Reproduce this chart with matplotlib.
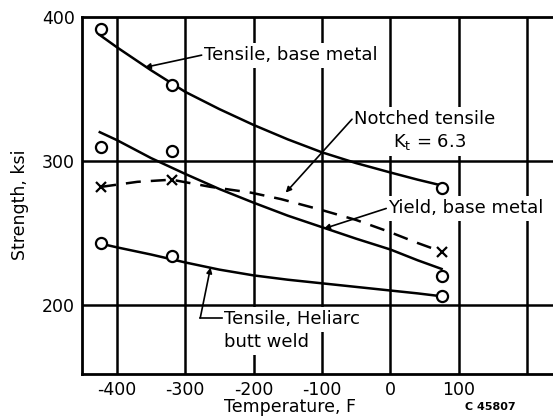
import numpy as np
import matplotlib.pyplot as plt

# test temperatures (F) and measured strengths (ksi)
temp_pts = [-423, -320, 75]
tensile_base = [392, 353, 281]
yield_base = [310, 307, 220]
notched = [282, 287, 237]
heliarc = [243, 234, 206]

# faired curves
tens_curve_t = [-425, -400, -350, -300, -250, -200, -150, -100, -50, 0, 40, 75]
tens_curve_s = [387.5, 379, 363, 348, 336, 325, 315, 306, 298.5, 292, 287, 283]
yld_curve_t = [-425, -400, -350, -300, -250, -200, -150, -100, -50, 0, 40, 75]
yld_curve_s = [320, 314.5, 302, 291, 280.5, 271, 262, 254, 246, 238.5, 231, 225]
notch_curve_t = [-423, -370, -320, -263, -204, -160, -101, -50, -3, 40, 75]
notch_curve_s = [282, 285.5, 287, 282, 278, 273.5, 266, 259, 251, 243, 237]
hel_curve_t = [-423, -400, -350, -300, -250, -200, -150, -100, -50, 0, 40, 75]
hel_curve_s = [242.5, 240, 235, 229.5, 224.5, 220.5, 217.5, 215, 212.5, 210, 208, 206]

xgrid = [-400, -300, -200, -100, 0, 100, 200]
ygrid = [200, 300]
xticks = [-400, -300, -200, -100, 0, 100]
yticks = [200, 300, 400]

plt.rcParams['font.family'] = 'DejaVu Sans'
fig = plt.figure(figsize=(5.53, 4.20), dpi=100)
ax = fig.add_axes([82/553, 1-374/420, 1-82/553, (374-17)/420])
ax.set_xlim(-451, 238)
ax.set_ylim(152, 400)

for gx in xgrid:
    ax.axvline(gx, color='black', lw=1.8, zorder=1)
for gy in ygrid:
    ax.axhline(gy, color='black', lw=1.8, zorder=1)

for sp in ['left', 'bottom', 'top']:
    ax.spines[sp].set_linewidth(2)
ax.spines['right'].set_visible(False)

ax.set_xticks(xticks)
ax.set_xticklabels([str(t) for t in xticks])
ax.set_yticks(yticks)
ax.tick_params(length=0, labelsize=12.5, pad=5)

line_kw = dict(color='black', lw=1.8, zorder=3)
ax.plot(tens_curve_t, tens_curve_s, **line_kw)
ax.plot(yld_curve_t, yld_curve_s, **line_kw)
ax.plot(hel_curve_t, hel_curve_s, **line_kw)
ax.plot(notch_curve_t, notch_curve_s, ls=(0, (6, 4)), **line_kw)

circ = dict(ls='none', marker='o', ms=8, mfc='white', mec='black', mew=1.6, zorder=4)
ax.plot(temp_pts, tensile_base, **circ)
ax.plot(temp_pts, yield_base, **circ)
ax.plot(temp_pts, heliarc, **circ)
ax.plot(temp_pts, notched, ls='none', marker='x', ms=7.5, mec='black', mew=1.6, zorder=4)

fs = 13
box = dict(facecolor='white', edgecolor='none', pad=2.5)
arrow = dict(arrowstyle='-|>', color='black', lw=1.2, mutation_scale=8, shrinkA=0, shrinkB=0)

# leaders
ax.annotate('', xy=(-359, 365), xytext=(-276, 373.5), arrowprops=arrow, zorder=7)
ax.annotate('', xy=(-153, 278), xytext=(-56, 329), arrowprops=arrow, zorder=7)
ax.annotate('', xy=(-97, 253), xytext=(-6, 267), arrowprops=arrow, zorder=7)
ax.annotate('', xy=(-263, 226), xytext=(-278, 191), arrowprops=arrow, zorder=7)
ax.plot([-278, -246], [191, 191], color='black', lw=1.2, zorder=7)

ax.text(-273, 373.5, 'Tensile, base metal', fontsize=fs, va='center', ha='left', bbox=box, zorder=6)
ax.text(-53, 329, 'Notched tensile', fontsize=fs, va='center', ha='left', bbox=box, zorder=6)
ax.text(57, 313, 'K$_\\mathregular{t}$ = 6.3', fontsize=fs, va='center', ha='center', bbox=box, zorder=6)
ax.text(-3, 267, 'Yield, base metal', fontsize=fs, va='center', ha='left', bbox=box, zorder=6)
ax.text(-243, 190, 'Tensile, Heliarc', fontsize=fs, va='center', ha='left', bbox=box, zorder=6)
ax.text(-243, 174, 'butt weld', fontsize=fs, va='center', ha='left', bbox=box, zorder=6)

fig.text(20/553, 1-205/420, 'Strength, ksi', rotation=90, fontsize=12.5, ha='center', va='center')
fig.text(290/553, 1-407/420, 'Temperature, F', fontsize=12.5, ha='center', va='center')
fig.text(490/553, 1-407/420, 'C 45807', fontsize=8, fontweight='bold', ha='center', va='center')

fig.savefig('out.png', dpi=100)
